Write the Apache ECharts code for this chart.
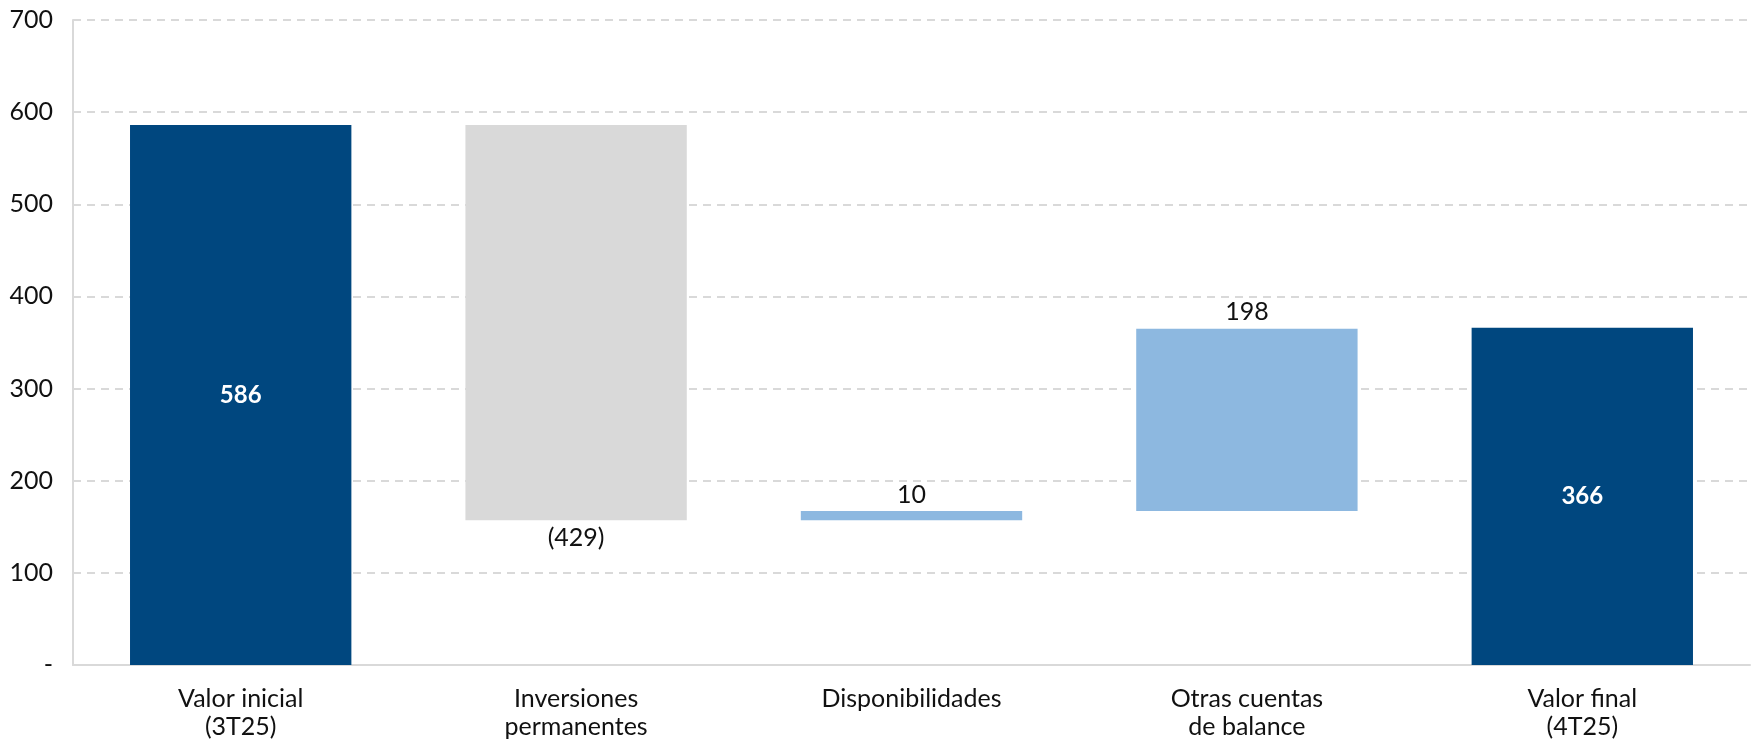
<!DOCTYPE html>
<html>
<head>
<meta charset="utf-8">
<script src="https://cdn.jsdelivr.net/npm/echarts@6/dist/echarts.min.js"></script>
<style>
html,body{margin:0;padding:0;background:#fff;}
#chart{width:1751px;height:747px;}
</style>
</head>
<body>
<div id="chart"></div>
<script>
const categories = ['Valor inicial\n(3T25)', 'Inversiones\npermanentes', 'Disponibilidades', 'Otras cuentas\nde balance', 'Valor final\n(4T25)'];
const changes = [586, -429, 10, 198, 366];
const kinds = ['total', 'delta', 'delta', 'delta', 'total'];
const yTicks = [0, 100, 200, 300, 400, 500, 600, 700];

const COLORS = { total: '#00477F', down: '#D9D9D9', up: '#8DB8E0' };
const FONT = 'Lato, "Open Sans", sans-serif';
const FS = 25;

// build waterfall bases from the changes
const bases = [];
const heights = [];
let running = 0;
changes.forEach((v, i) => {
  if (kinds[i] === 'total') {
    bases.push(0); heights.push(v); running = v;
  } else if (v < 0) {
    running += v; bases.push(running); heights.push(-v);
  } else {
    bases.push(running); heights.push(v); running += v;
  }
});

const visibleData = heights.map((h, i) => {
  const k = kinds[i];
  const v = changes[i];
  let color, label;
  if (k === 'total') {
    color = COLORS.total;
    label = { show: true, position: 'inside', color: '#fff', fontWeight: 'bold', fontSize: FS - 1, fontFamily: FONT };
  } else if (v < 0) {
    color = COLORS.down;
    label = { show: true, position: 'bottom', distance: 5, color: '#111', fontSize: FS, fontFamily: FONT };
  } else {
    color = COLORS.up;
    label = { show: true, position: 'top', distance: 4, color: '#111', fontSize: FS, fontFamily: FONT };
  }
  return { value: h, itemStyle: { color }, label };
});

const chart = echarts.init(document.getElementById('chart'));
chart.setOption({
  animation: false,
  grid: { left: 73, right: 1, top: 20, bottom: 82, containLabel: false },
  xAxis: {
    type: 'category',
    data: categories,
    axisLine: { lineStyle: { color: '#D9D9D9', width: 2 } },
    axisTick: { show: false },
    axisLabel: { color: '#111', fontSize: FS, fontFamily: FONT, lineHeight: 28, margin: 20, interval: 0 }
  },
  yAxis: {
    type: 'value',
    min: 0, max: 700, interval: 100,
    axisLine: { show: true, lineStyle: { color: '#D9D9D9', width: 2 } },
    axisTick: { show: false },
    splitLine: { lineStyle: { color: '#D9D9D9', type: [8, 6], width: 2 } },
    axisLabel: {
      color: '#111', fontSize: FS, fontFamily: FONT, margin: 20,
      formatter: v => yTicks.includes(v) ? (v === 0 ? '-' : String(v)) : ''
    }
  },
  series: [
    {
      type: 'bar', stack: 'wf', data: bases, barWidth: '66%',
      itemStyle: { color: 'transparent' }, silent: true
    },
    {
      type: 'bar', stack: 'wf', data: visibleData, barWidth: '66%',
      label: {
        formatter: p => {
          const v = changes[p.dataIndex];
          return v < 0 ? '(' + (-v) + ')' : String(v);
        }
      }
    }
  ]
});
</script>
</body>
</html>
